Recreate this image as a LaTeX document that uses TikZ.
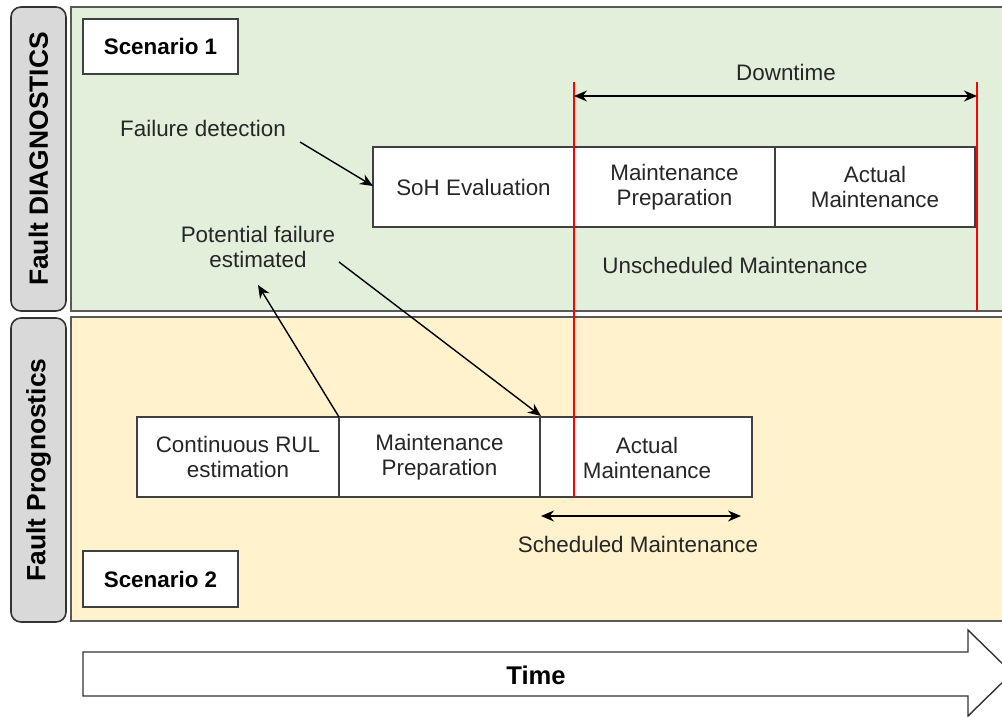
\documentclass[tikz,border=0pt]{standalone}
\usepackage{fontspec}
\setmainfont{Liberation Sans}
\usetikzlibrary{arrows.meta}
\definecolor{diaggreen}{HTML}{E2EFDA}
\definecolor{progyellow}{HTML}{FFF2CC}
\definecolor{labelgray}{HTML}{D9D9D9}
\definecolor{edgegray}{HTML}{595959}
\definecolor{redline}{HTML}{FF0000}
\tikzset{
  x=0.5pt, y=-0.5pt,
  panel/.style={draw=edgegray, line width=0.8pt},
  sidelabel/.style={draw=black!80, fill=labelgray, rounded corners=5pt, line width=0.8pt},
  sidetext/.style={font=\fontsize{13.2pt}{15pt}\selectfont\bfseries, rotate=90},
  txt/.style={font=\fontsize{11.2pt}{12.6pt}\selectfont, align=center, text=black!85},
  stepbox/.style={draw=black!75, fill=white, line width=0.7pt},
  scen/.style={draw=black!75, fill=white, line width=0.7pt, font=\fontsize{11.2pt}{13pt}\selectfont\bfseries},
  arr/.style={-{Stealth[length=6.5pt,width=5.5pt]}, line width=0.7pt},
  darr/.style={{Stealth[length=6.5pt,width=5.5pt]}-{Stealth[length=6.5pt,width=5.5pt]}, line width=0.7pt},
  red/.style={draw=redline, line width=1.4pt},
}
\begin{document}
\begin{tikzpicture}
\useasboundingbox (0,0) rectangle (1002,717);
% panels
\draw[panel, fill=diaggreen] (71,7) rectangle (1010,311);
\draw[panel, fill=progyellow] (71,317) rectangle (1010,621);
\draw[sidelabel] (11,7) rectangle (66,311);
\node[sidetext] (diag) at (38.5,159) {Fault DIAGNOSTICS};
\draw[sidelabel] (11,318) rectangle (66,622);
\node[sidetext] (prog) at (38.5,470) {Fault Prognostics};
% scenario boxes
\draw[scen] (83,19) rectangle node (s1) {Scenario 1} (238,74);
\draw[scen] (83,551) rectangle node (s2) {Scenario 2} (238,607);
% top process
\draw[stepbox] (373,147) rectangle node[txt] (soh) {SoH Evaluation} (574,227);
\draw[stepbox] (574,147) rectangle node[txt] (mp1) {Maintenance\\Preparation} (775,227);
\draw[stepbox] (775,147) rectangle node[txt] (am1) {Actual\\Maintenance} (975,227);
\coordinate (sohw) at (373,186);
% bottom process
\draw[stepbox] (137,417) rectangle node[txt] (rul) {Continuous RUL\\estimation} (339,497);
\draw[stepbox] (339,417) rectangle node[txt] (mp2) {Maintenance\\Preparation} (540,497);
\draw[stepbox] (540,417) rectangle (752,497);
\node[txt] (am2) at (647,458) {Actual\\Maintenance};
\coordinate (rulne) at (339,417);
\coordinate (mpne) at (541,416);
% red lines
\coordinate (r1t) at (574,82); \coordinate (r1b) at (574,497);
\coordinate (r2t) at (977,82); \coordinate (r2b) at (977,311);
\draw[red] (r1t) -- (r1b);
\draw[red] (r2t) -- (r2b);
% downtime
\coordinate (dl) at (574,96); \coordinate (dr) at (977,96);
\draw[darr] (dl) -- (dr);
\node[txt] (down) at (786,72) {Downtime};
\node[txt] (unsch) at (735,265) {Unscheduled Maintenance};
% labels and arrows
\node[txt] (fd) at (203,128) {Failure detection};
\coordinate (fdend) at (300,142);
\draw[arr] (fdend) -- (sohw);
\node[txt] (pfe) at (258,247) {Potential failure\\estimated};
\coordinate (pfeb) at (258,285);
\coordinate (pfer) at (339,262);
\draw[arr] (rulne) -- (pfeb);
\draw[arr] (pfer) -- (mpne);
% scheduled
\coordinate (sl) at (541,516); \coordinate (sr) at (741,516);
\draw[darr] (sl) -- (sr);
\node[txt] (sched) at (638,544) {Scheduled Maintenance};
% time arrow
\draw[line width=0.7pt, draw=black!80, fill=white] (83,652) -- (968,652) -- (968,630) -- (1012,673) -- (968,716) -- (968,696) -- (83,696) -- cycle;
\node[font=\fontsize{12.8pt}{14pt}\selectfont\bfseries] (time) at (536,675) {Time};
\end{tikzpicture}
\end{document}
